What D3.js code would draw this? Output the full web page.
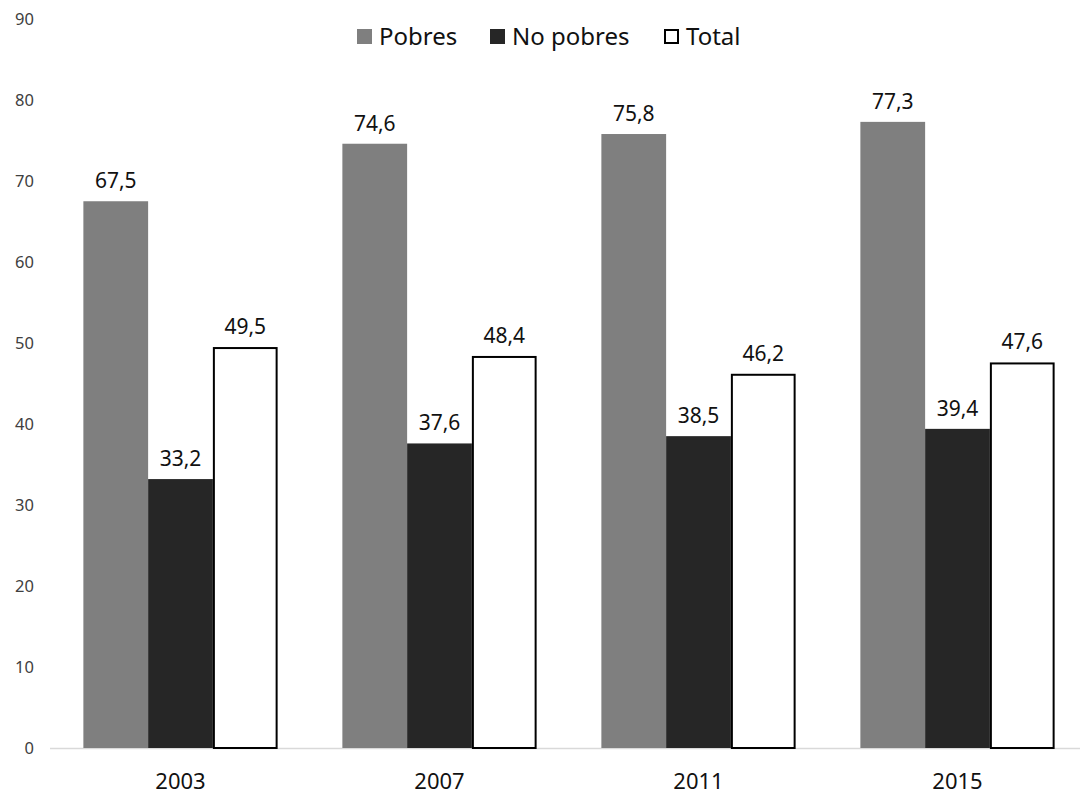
<!DOCTYPE html>
<html><head><meta charset="utf-8">
<script src="https://cdn.jsdelivr.net/npm/d3@7"></script>
<style>body{margin:0;background:#fff}svg{display:block}</style>
</head><body>
<svg id="c" width="1080" height="796"></svg>
<script>
const years = ["2003","2007","2011","2015"];
const seriesNames = ["Pobres","No pobres","Total"];
const pobres = [67.5, 74.6, 75.8, 77.3];
const noPobres = [33.2, 37.6, 38.5, 39.4];
const total = [49.5, 48.4, 46.2, 47.6];
const yTicks = [0,10,20,30,40,50,60,70,80,90];
const fills = ["#7f7f7f","#262626","#ffffff"];
const strokes = ["none","none","#000"];

const values = [pobres, noPobres, total];
const svg = d3.select("#c");
const font = "'Noto Sans', 'Open Sans', sans-serif";

const y = d3.scaleLinear().domain([0,90]).range([748,19]);
const x0 = d3.scaleBand().domain(years).range([51,1087]).paddingInner(0.25).paddingOuter(0.125);
const x1 = d3.scaleBand().domain(seriesNames).range([0, x0.bandwidth()]);

// y axis labels
const yAxis = d3.axisLeft(y).tickValues(yTicks).tickSize(0).tickPadding(0).tickFormat(d3.format("d"));
const ya = svg.append("g").attr("transform","translate(34,0)").call(yAxis);
ya.select(".domain").remove();
ya.selectAll("text").attr("font-family",font).attr("font-size",16.5).attr("fill","#404040");

// baseline
svg.append("line").attr("x1",50).attr("x2",1080).attr("y1",y(0)+0.5).attr("y2",y(0)+0.5)
  .attr("stroke","#d9d9d9").attr("stroke-width",1.5);

// bars
const groups = svg.append("g").selectAll("g").data(years).join("g")
  .attr("transform", d => `translate(${x0(d)},0)`);
seriesNames.forEach((s, si) => {
  groups.append("rect")
    .attr("x", (d,i) => x1(s) + (si===2 ? 1 : 0))
    .attr("y", (d,i) => y(values[si][i]) + (si===2 ? 1 : 0))
    .attr("width", x1.bandwidth() - (si===2 ? 2 : 0))
    .attr("height", (d,i) => y(0) - y(values[si][i]) - (si===2 ? 1 : 0))
    .attr("fill", fills[si])
    .attr("stroke", strokes[si])
    .attr("stroke-width", si===2 ? 2 : 0);
  groups.append("text")
    .attr("x", x1(s) + x1.bandwidth()/2)
    .attr("y", (d,i) => y(values[si][i]) - 13)
    .attr("text-anchor","middle")
    .attr("font-family",font).attr("font-size",21).attr("fill","#111")
    .text((d,i) => d3.format(".1f")(values[si][i]).replace(".",","));
});

// x labels
const xAxis = d3.axisBottom(x0).tickSize(0).tickPadding(0);
const xa = svg.append("g").attr("transform",`translate(0,${y(0)+41})`).call(xAxis);
xa.select(".domain").remove();
xa.selectAll("text").attr("font-family",font).attr("font-size",22).attr("fill","#111").attr("dy","0");

// legend
const legendX = [357, 490, 664];
const leg = svg.append("g");
seriesNames.forEach((s, si) => {
  leg.append("rect").attr("x", legendX[si] + (si===2?1:0)).attr("y", 29 + (si===2?1:0))
    .attr("width", 15 - (si===2?2:0)).attr("height", 15 - (si===2?2:0))
    .attr("fill", fills[si]).attr("stroke", strokes[si]).attr("stroke-width", si===2?2:0);
  leg.append("text").attr("x", legendX[si] + 22).attr("y", 45)
    .attr("font-family",font).attr("font-size",24).attr("fill","#111").text(s);
});
</script>
</body></html>
